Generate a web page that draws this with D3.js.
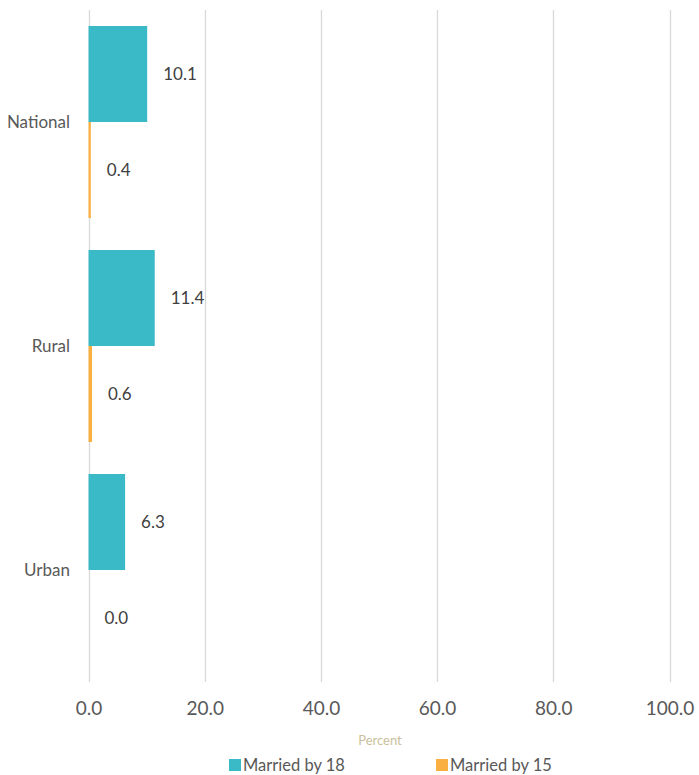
<html>
	<head>
		<title></title>
		<script type="text/javascript" src="https://d3js.org/d3.v7.min.js"></script>
		<style>
			body {
				margin: 0;
				background-color: #ffffff;
			}
			text {
				font-family: Lato, "Open Sans", sans-serif;
			}
		</style>
	</head>
	<body>
		<div id="chart"></div>

		<script>

			//Data
			var categories = ["National", "Rural", "Urban"];
			var seriesNames = ["Married by 18", "Married by 15"];
			var marriedBy18 = [10.1, 11.4, 6.3];
			var marriedBy15 = [0.4, 0.6, 0.0];
			var tickValues = [0, 20, 40, 60, 80, 100];

			var colors = ["#3ab9c6", "#f9b040"];

			//Canvas dimensions
			var canvasWidth = 699;
			var canvasHeight = 775;

			//Plot area
			var plotLeft = 88.5, plotRight = 669.5, plotTop = 10, plotBottom = 682;

			var svg = d3.select("#chart").append("svg")
						.attr("width", canvasWidth)
						.attr("height", canvasHeight);

			var x = d3.scaleLinear().domain([0, 100]).range([plotLeft, plotRight]);
			var y = d3.scaleBand().domain(categories).range([plotTop, plotBottom])
						.paddingInner(0.143).paddingOuter(0.0715);
			var sub = d3.scaleBand().domain(seriesNames).range([0, y.bandwidth()]);

			//Gridlines
			svg.append("g").selectAll("line").data(tickValues).enter().append("line")
				.attr("x1", function(d){ return Math.round(x(d)) + 0.5; })
				.attr("x2", function(d){ return Math.round(x(d)) + 0.5; })
				.attr("y1", plotTop)
				.attr("y2", plotBottom)
				.attr("stroke", "#d9d9d9")
				.attr("stroke-width", 1.3);

			//Bars
			var series = [marriedBy18, marriedBy15];
			series.forEach(function(vals, s){
				var g = svg.append("g");
				g.selectAll("rect").data(vals).enter().append("rect")
					.attr("x", x(0))
					.attr("y", function(d, i){ return y(categories[i]) + sub(seriesNames[s]); })
					.attr("width", function(d){ return x(d) - x(0); })
					.attr("height", sub.bandwidth())
					.attr("fill", colors[s]);

				g.selectAll("text").data(vals).enter().append("text")
					.text(function(d){ return d.toFixed(1); })
					.attr("x", function(d){ return x(d) + 16; })
					.attr("y", function(d, i){ return y(categories[i]) + sub(seriesNames[s]) + sub.bandwidth() / 2; })
					.attr("dy", "0.35em")
					.attr("font-size", 17)
					.attr("fill", "#404040");
			});

			//Category labels
			svg.append("g").selectAll("text").data(categories).enter().append("text")
				.text(function(d){ return d; })
				.attr("x", 70)
				.attr("y", function(d){ return y(d) + y.bandwidth() / 2; })
				.attr("dy", "0.35em")
				.attr("text-anchor", "end")
				.attr("font-size", 17)
				.attr("fill", "#595959");

			//X axis
			var axis = svg.append("g")
				.attr("transform", "translate(0," + plotBottom + ")")
				.call(d3.axisBottom(x).tickValues(tickValues).tickFormat(d3.format(".1f")).tickSize(0).tickPadding(20));
			axis.select(".domain").remove();
			axis.selectAll("text")
				.attr("font-size", 19)
				.attr("fill", "#595959")
				.style("font-family", "Lato, 'Open Sans', sans-serif");

			//Axis title
			svg.append("text")
				.text("Percent")
				.attr("x", 380)
				.attr("y", 745)
				.attr("text-anchor", "middle")
				.attr("font-size", 13)
				.attr("fill", "#c9bf9c");

			//Legend
			var legendX = [229, 436];
			var legend = svg.append("g").selectAll("g").data(seriesNames).enter().append("g")
				.attr("transform", function(d, i){ return "translate(" + legendX[i] + ",757)"; });
			legend.append("rect")
				.attr("width", 12)
				.attr("height", 12)
				.attr("y", 2)
				.attr("fill", function(d, i){ return colors[i]; });
			legend.append("text")
				.text(function(d){ return d; })
				.attr("x", 14)
				.attr("y", 8)
				.attr("dy", "0.35em")
				.attr("font-size", 16.5)
				.attr("fill", "#595959");

		</script>
	</body>
</html>
